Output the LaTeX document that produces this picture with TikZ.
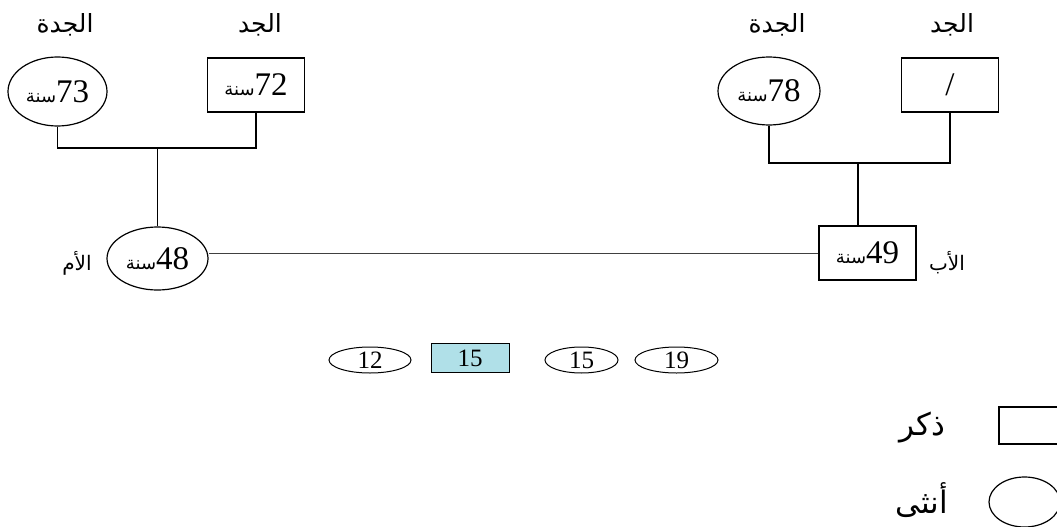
\documentclass[tikz,border=0pt]{standalone}
\usepackage{fontspec}
\setmainfont{Liberation Serif}
\newfontfamily\arabicfont[Script=Arabic]{DejaVu Sans}
\TeXXeTstate=1
\usetikzlibrary{shapes.geometric}
\newcommand{\ar}[1]{{\arabicfont\beginR #1\endR}}
\newcommand{\agetxt}[1]{{\fontsize{18}{18}\selectfont\ar{سنة}}{\fontsize{33}{33}\selectfont #1}}
\definecolor{childfill}{RGB}{176,224,232}
\tikzset{
  fem/.style={draw, ellipse, line width=1.2pt, inner sep=0pt},
  mal/.style={draw, rectangle, line width=1.2pt, inner sep=0pt},
  conn/.style={line width=1.1pt},
  marr/.style={line width=0.8pt, draw=black!75},
  lbl/.style={font=\fontsize{25}{25}\selectfont\arabicfont, inner sep=0pt},
  sidelbl/.style={font=\fontsize{20}{20}\selectfont\arabicfont, inner sep=0pt},
  leglbl/.style={font=\fontsize{31}{31}\selectfont\arabicfont, inner sep=0pt},
  kidnum/.style={font=\fontsize{25}{25}\selectfont}
}
\begin{document}
\begin{tikzpicture}[x=1pt,y=-1pt]
\clip (0,0) rectangle (1057,527);
\fill[white] (0,0) rectangle (1057,527);
% grandparents (mother side)
\node[lbl] (l1) at (65,25) {\beginR الجدة\endR};
\node[lbl] (l2) at (260,25) {\beginR الجد\endR};
\node[fem, minimum width=99pt, minimum height=69pt] (gm1) at (57.5,91.5) {\agetxt{73}};
\node[mal, minimum width=97pt, minimum height=54pt] (gp1) at (256,85) {\agetxt{72}};
% grandparents (father side)
\node[lbl] (l3) at (777,25) {\beginR الجدة\endR};
\node[lbl] (l4) at (952,25) {\beginR الجد\endR};
\node[fem, minimum width=102pt, minimum height=68pt] (gm2) at (769,91) {\agetxt{78}};
\node[mal, minimum width=97pt, minimum height=54pt] (gp2) at (950,85) {\fontsize{33}{33}\selectfont /};
% parents
\node[fem, minimum width=101pt, minimum height=63pt] (m) at (157.5,258.5) {\agetxt{48}};
\node[mal, minimum width=97pt, minimum height=54pt] (f) at (867.5,253) {\agetxt{49}};
\node[sidelbl] (lm) at (77,263) {\beginR الأم\endR};
\node[sidelbl] (lf) at (947,263) {\beginR الأب\endR};
% connectors
\coordinate (barL) at (157.5,148);
\coordinate (barR) at (858,163);
\draw[conn] (gm1.south) |- (barL) -| (gp1.south);
\draw[conn] (barL) -- (m.north);
\draw[conn] (gm2.south) |- (barR) -| (gp2.south);
\draw[conn] (barR) -- (barR |- f.north);
\draw[marr] (f.west) -- (f.west -| m.east);
% children
\node[fem, line width=1pt, minimum width=82pt, minimum height=26pt, kidnum] (c1) at (370,360) {12};
\node[mal, line width=1pt, fill=childfill, minimum width=78pt, minimum height=29pt, kidnum] (c2) at (470,358) {15};
\node[fem, line width=1pt, minimum width=73pt, minimum height=26pt, kidnum] (c3) at (581.5,360) {15};
\node[fem, line width=1pt, minimum width=83pt, minimum height=26pt, kidnum] (c4) at (676.5,360) {19};
% legend
\node[mal, minimum width=76pt, minimum height=37pt] (kmale) at (1037,425.5) {};
\node[fem, minimum width=71pt, minimum height=50pt] (kfem) at (1024.5,502) {};
\node[leglbl] (lmale) at (922,428) {\beginR ذكر\endR};
\node[leglbl] (lfem) at (922,500) {\beginR أنثى\endR};
\end{tikzpicture}
\end{document}
